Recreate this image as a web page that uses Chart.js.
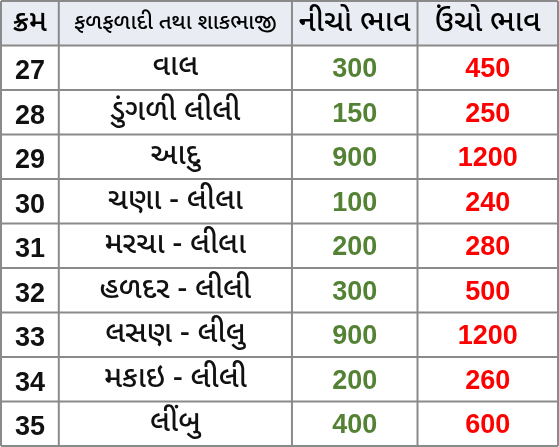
<!DOCTYPE html>
<html><head><meta charset="utf-8">
<script src="https://cdn.jsdelivr.net/npm/chart.js@4"></script>
<style>html,body{margin:0;padding:0;background:#fff}#wrap{width:559px;height:447px}</style>
</head><body><div id="wrap"><canvas id="c"></canvas></div>
<script>
const headers = ['ક્રમ', 'ફળફળાદી તથા શાકભાજી', 'નીચો ભાવ', 'ઉંચો ભાવ'];
const serial = ['27', '28', '29', '30', '31', '32', '33', '34', '35'];
const items = ['વાલ', 'ડુંગળી લીલી', 'આદુ', 'ચણા - લીલા', 'મરચા - લીલા', 'હળદર - લીલી', 'લસણ - લીલુ', 'મકાઇ - લીલી', 'લીંબુ'];
const lowPrice = [300, 150, 900, 100, 200, 300, 900, 200, 400];
const highPrice = [450, 250, 1200, 240, 280, 500, 1200, 260, 600];

// column edges in x-scale units
const edges = [0, 58, 292, 418, 559];
const rows = ['h'].concat(serial);

const tablePlugin = {
  id: 'table',
  afterDraw(chart) {
    const ctx = chart.ctx, x = chart.scales.x, y = chart.scales.y;
    const half = (y.getPixelForValue(1) - y.getPixelForValue(0)) / 2;
    const top = y.getPixelForValue(0) - half;
    const left = x.getPixelForValue(0), right = x.getPixelForValue(559);
    // header band
    ctx.fillStyle = '#e9edf3';
    ctx.fillRect(left, top, right - left, half * 2);
    const mid = i => (x.getPixelForValue(edges[i]) + x.getPixelForValue(edges[i + 1])) / 2;
    ctx.textAlign = 'center';
    ctx.textBaseline = 'middle';
    const guj = '"Noto Sans Gujarati", "Noto Sans", sans-serif';
    const num = 'bold 27px "Liberation Sans", Arial, sans-serif';
    rows.forEach((r, ri) => {
      const cy = y.getPixelForValue(ri);
      if (ri === 0) {
        ctx.fillStyle = '#000';
        headers.forEach((h, ci) => {
          ctx.font = (ci === 1 ? '500 22px ' : '500 30px ') + guj;
          ctx.fillText(h, mid(ci), cy + 2);
        });
        return;
      }
      const k = ri - 1;
      ctx.fillStyle = '#111';
      ctx.font = num;
      ctx.fillText(serial[k], mid(0), cy + 4);
      ctx.font = '500 30px ' + guj;
      ctx.fillText(items[k], mid(1), cy + 2);
      ctx.font = num;
      ctx.fillStyle = '#548235';
      ctx.fillText(String(lowPrice[k]), mid(2), cy + 2);
      ctx.fillStyle = '#ff0000';
      ctx.fillText(String(highPrice[k]), mid(3), cy + 2);
    });
    // grid
    ctx.strokeStyle = '#8a8a8a';
    ctx.lineWidth = 2;
    ctx.beginPath();
    for (let i = 0; i <= rows.length; i++) {
      const py = top + i * half * 2;
      ctx.moveTo(left, py); ctx.lineTo(right, py);
    }
    edges.forEach(e => {
      const px = x.getPixelForValue(e);
      ctx.moveTo(px, top); ctx.lineTo(px, top + rows.length * half * 2);
    });
    ctx.stroke();
  }
};

new Chart(document.getElementById('c'), {
  type: 'bar',
  data: { labels: rows, datasets: [{ data: [] }] },
  options: {
    animation: false,
    responsive: true,
    maintainAspectRatio: false,
    layout: { padding: 1 },
    plugins: { legend: { display: false }, tooltip: { enabled: false } },
    scales: {
      x: { type: 'linear', min: 0, max: 559, offset: false, display: false },
      y: { type: 'category', labels: rows, offset: true, display: false }
    }
  },
  plugins: [tablePlugin]
});
</script></body></html>
